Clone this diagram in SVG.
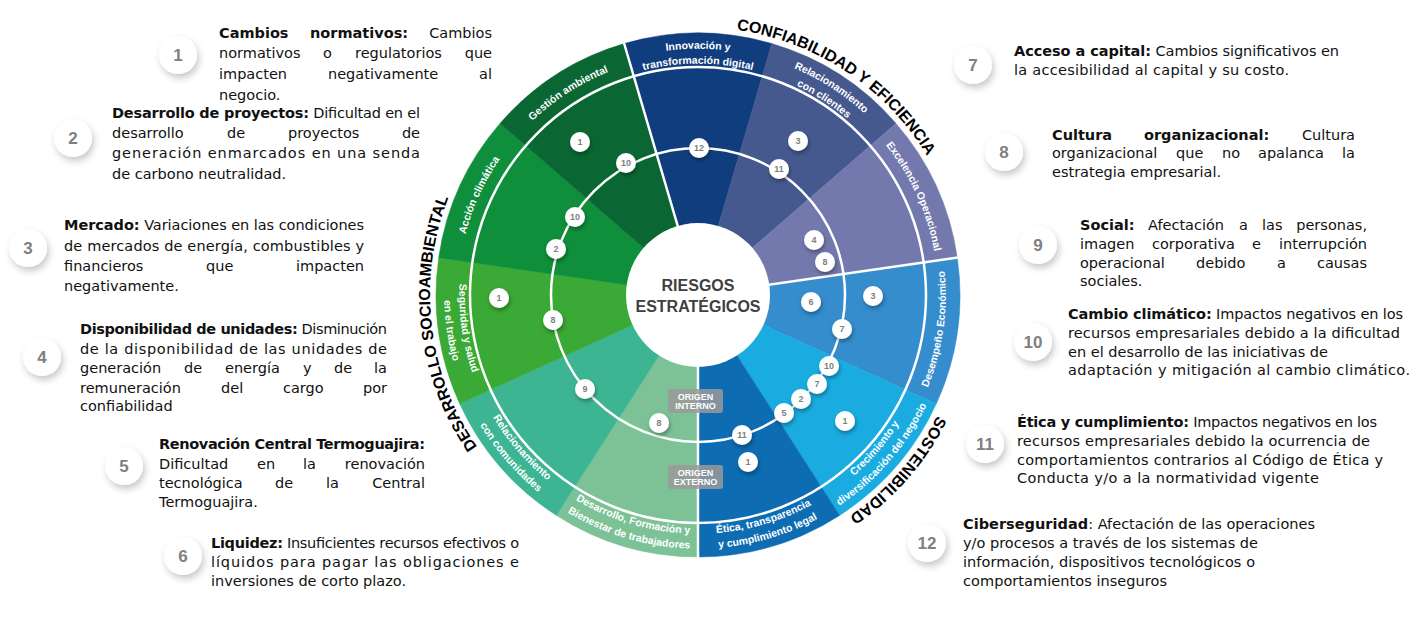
<svg xmlns="http://www.w3.org/2000/svg" width="1419" height="628" viewBox="0 0 1419 628">
<defs>
<filter id="sh" x="-60%" y="-60%" width="220%" height="220%"><feDropShadow dx="2" dy="4" stdDeviation="3.5" flood-color="#000" flood-opacity="0.22"/></filter>
<filter id="shs" x="-60%" y="-60%" width="220%" height="220%"><feDropShadow dx="1" dy="2.5" stdDeviation="2" flood-color="#000" flood-opacity="0.35"/></filter>
<path id="pA" d="M466.4 359.0 A240.3 240.3 0 0 1 594.7 78.0"/>
<path id="pG" d="M468.5 223.7 A240.3 240.3 0 0 1 728.4 56.6"/>
<path id="pI1" d="M539.7 106.3 A246.3 246.3 0 0 1 856.3 106.3"/>
<path id="pI2" d="M549.3 117.8 A231.3 231.3 0 0 1 846.7 117.8"/>
<path id="pC1" d="M666.8 50.7 A246.3 246.3 0 0 1 933.2 221.9"/>
<path id="pC2" d="M668.7 65.5 A231.3 231.3 0 0 1 918.9 226.3"/>
<path id="pE" d="M801.3 78.0 A240.3 240.3 0 0 1 929.6 359.0"/>
<path id="pS1" d="M495.2 169.2 A238.7 238.7 0 0 0 538.8 472.9"/>
<path id="pS2" d="M482.4 161.2 A253.7 253.7 0 0 0 528.8 484.0"/>
<path id="pR1" d="M459.3 298.8 A238.7 238.7 0 0 0 660.3 530.7"/>
<path id="pR2" d="M444.3 299.0 A253.7 253.7 0 0 0 657.9 545.5"/>
<path id="pD1" d="M499.3 427.2 A238.7 238.7 0 0 0 793.7 513.7"/>
<path id="pD2" d="M486.8 435.5 A253.7 253.7 0 0 0 799.7 527.4"/>
<path id="pT1" d="M602.3 513.7 A238.7 238.7 0 0 0 896.7 427.2"/>
<path id="pT2" d="M596.3 527.4 A253.7 253.7 0 0 0 909.2 435.5"/>
<path id="pK1" d="M735.7 530.7 A238.7 238.7 0 0 0 936.7 298.8"/>
<path id="pK2" d="M738.1 545.5 A253.7 253.7 0 0 0 951.7 299.0"/>
<path id="pP" d="M863.2 479.6 A247.7 247.7 0 0 0 908.5 164.4"/>
<path id="tC" d="M667.7 28.7 A268 268 0 0 1 955.0 218.9"/>
<path id="tS" d="M965.9 300.6 A268 268 0 0 1 739.0 559.8"/>
<path id="tD" d="M513.9 489.7 A268 268 0 0 1 474.3 147.5"/>
</defs>
<style>
.t{font-family:"DejaVu Sans",sans-serif;font-size:14.5px;fill:#111}
.b{font-weight:bold}
.e{text-anchor:end}
.bd{fill:#fff;filter:url(#sh)}
.bn{font-family:"Liberation Sans",Arial,sans-serif;font-weight:bold;font-size:17px;fill:#808080;text-anchor:middle}
.sb{fill:#fff;filter:url(#shs)}
.sn{font-family:"Liberation Sans",Arial,sans-serif;font-weight:bold;font-size:9px;fill:#7f7f7f;text-anchor:middle}
.lb{font-family:"Liberation Sans",Arial,sans-serif;font-weight:bold;font-size:10.5px;fill:#fff;text-anchor:middle}
.ttl{font-family:"Liberation Sans",Arial,sans-serif;font-weight:bold;font-size:16px;fill:#000;text-anchor:middle}
.og{font-family:"Liberation Sans",Arial,sans-serif;font-weight:bold;font-size:9px;fill:#fff;text-anchor:middle}
.ctr{font-family:"Liberation Sans",Arial,sans-serif;font-weight:bold;font-size:16px;fill:#404040;text-anchor:middle}
.sep{stroke:#fff;stroke-width:2.5;fill:none}
</style>
<rect width="1419" height="628" fill="#fff"/>

<g id="wheel">
<g id="seg-desarrollo-formacion"><path d="M698 295 L698 557 A262 262 0 0 1 556.4 515.4 Z" fill="#7cc296" stroke="#7cc296" stroke-width="0.5"/></g>
<g id="seg-rel-comunidades"><path d="M698 295 L556.4 515.4 A262 262 0 0 1 459.7 403.8 Z" fill="#3db593" stroke="#3db593" stroke-width="0.5"/></g>
<g id="seg-seguridad"><path d="M698 295 L459.7 403.8 A262 262 0 0 1 438.7 257.7 Z" fill="#3aa935" stroke="#3aa935" stroke-width="0.5"/></g>
<g id="seg-accion-climatica"><path d="M698 295 L438.7 257.7 A262 262 0 0 1 500.0 123.4 Z" fill="#0f8e3b" stroke="#0f8e3b" stroke-width="0.5"/></g>
<g id="seg-gestion-ambiental"><path d="M698 295 L500.0 123.4 A262 262 0 0 1 624.2 43.6 Z" fill="#0a6733" stroke="#0a6733" stroke-width="0.5"/></g>
<g id="seg-innovacion"><path d="M698 295 L624.2 43.6 A262 262 0 0 1 771.8 43.6 Z" fill="#0f3d7e" stroke="#0f3d7e" stroke-width="0.5"/></g>
<g id="seg-rel-clientes"><path d="M698 295 L771.8 43.6 A262 262 0 0 1 896.0 123.4 Z" fill="#46598f" stroke="#46598f" stroke-width="0.5"/></g>
<g id="seg-excelencia"><path d="M698 295 L896.0 123.4 A262 262 0 0 1 957.3 257.7 Z" fill="#7479ad" stroke="#7479ad" stroke-width="0.5"/></g>
<g id="seg-desempeno"><path d="M698 295 L957.3 257.7 A262 262 0 0 1 936.3 403.8 Z" fill="#358dcd" stroke="#358dcd" stroke-width="0.5"/></g>
<g id="seg-crecimiento"><path d="M698 295 L936.3 403.8 A262 262 0 0 1 839.6 515.4 Z" fill="#1aace1" stroke="#1aace1" stroke-width="0.5"/></g>
<g id="seg-etica"><path d="M698 295 L839.6 515.4 A262 262 0 0 1 698 557 Z" fill="#0e6cb3" stroke="#0e6cb3" stroke-width="0.5"/></g>

<path class="sep" d="M698 295 L698 558 M698 295 L624.0 43 M698 295 L958 257.6"/>
<circle class="sep" cx="698" cy="295" r="228" stroke-width="2"/>
<circle class="sep" cx="698" cy="295" r="147"/>

<g id="band-labels">
<text class="lb"><textPath href="#pA" startOffset="50%">Acción climática</textPath></text>
<text class="lb"><textPath href="#pG" startOffset="50%">Gestión ambiental</textPath></text>
<text class="lb"><textPath href="#pI1" startOffset="50%">Innovación y</textPath></text>
<text class="lb"><textPath href="#pI2" startOffset="50%">transformación digital</textPath></text>
<text class="lb"><textPath href="#pC1" startOffset="50%">Relacionamiento</textPath></text>
<text class="lb"><textPath href="#pC2" startOffset="50%">con clientes</textPath></text>
<text class="lb"><textPath href="#pE" startOffset="50%">Excelencia Operacional</textPath></text>
<text class="lb"><textPath href="#pS1" startOffset="50%">Seguridad y salud</textPath></text>
<text class="lb"><textPath href="#pS2" startOffset="50%">en el trabajo</textPath></text>
<text class="lb"><textPath href="#pR1" startOffset="50%">Relacionamiento</textPath></text>
<text class="lb"><textPath href="#pR2" startOffset="50%">con comunidades</textPath></text>
<text class="lb"><textPath href="#pD1" startOffset="50%">Desarrollo, Formación y</textPath></text>
<text class="lb"><textPath href="#pD2" startOffset="50%">Bienestar de trabajadores</textPath></text>
<text class="lb"><textPath href="#pT1" startOffset="50%">Ética, transparencia</textPath></text>
<text class="lb"><textPath href="#pT2" startOffset="50%">y cumplimiento legal</textPath></text>
<text class="lb"><textPath href="#pK1" startOffset="50%">Crecimiento y</textPath></text>
<text class="lb"><textPath href="#pK2" startOffset="50%">diversificación del negocio</textPath></text>
<text class="lb"><textPath href="#pP" startOffset="50%">Desempeño Económico</textPath></text>
</g>

<g id="titles">
<text class="ttl"><textPath href="#tC" startOffset="50%">CONFIABILIDAD Y EFICIENCIA</textPath></text>
<text class="ttl"><textPath href="#tS" startOffset="50%">SOSTENIBILIDAD</textPath></text>
<text class="ttl"><textPath href="#tD" startOffset="50%">DESARROLLO SOCIOAMBIENTAL</textPath></text>
</g>

<g id="center">
<circle cx="698" cy="295" r="72" fill="#fff"/>
<text class="ctr" x="698" y="291">RIESGOS</text>
<text class="ctr" x="698" y="312">ESTRATÉGICOS</text>
</g>

<g id="origen">
<rect x="668" y="389" width="55" height="24" rx="3" fill="#9a9a9a" fill-opacity="0.85"/>
<text class="og" x="695.5" y="399.5">ORIGEN</text>
<text class="og" x="695.5" y="408.5">INTERNO</text>
<rect x="668" y="465" width="55" height="24" rx="3" fill="#9a9a9a" fill-opacity="0.85"/>
<text class="og" x="695.5" y="475.5">ORIGEN</text>
<text class="og" x="695.5" y="484.5">EXTERNO</text>
</g>

<g id="wheel-badges">
<circle class="sb" cx="580" cy="142" r="10"/><text class="sn" x="580" y="145.2">1</text>
<circle class="sb" cx="626" cy="163" r="10"/><text class="sn" x="626" y="166.2">10</text>
<circle class="sb" cx="699" cy="148" r="10"/><text class="sn" x="699" y="151.2">12</text>
<circle class="sb" cx="798" cy="141" r="10"/><text class="sn" x="798" y="144.2">3</text>
<circle class="sb" cx="779" cy="169" r="10"/><text class="sn" x="779" y="172.2">11</text>
<circle class="sb" cx="575" cy="217" r="10"/><text class="sn" x="575" y="220.2">10</text>
<circle class="sb" cx="556" cy="249" r="10"/><text class="sn" x="556" y="252.2">2</text>
<circle class="sb" cx="814" cy="240" r="10"/><text class="sn" x="814" y="243.2">4</text>
<circle class="sb" cx="825" cy="262" r="10"/><text class="sn" x="825" y="265.2">8</text>
<circle class="sb" cx="499" cy="298" r="10"/><text class="sn" x="499" y="301.2">1</text>
<circle class="sb" cx="811" cy="302" r="10"/><text class="sn" x="811" y="305.2">6</text>
<circle class="sb" cx="873" cy="296" r="10"/><text class="sn" x="873" y="299.2">3</text>
<circle class="sb" cx="553" cy="320" r="10"/><text class="sn" x="553" y="323.2">8</text>
<circle class="sb" cx="842" cy="329" r="10"/><text class="sn" x="842" y="332.2">7</text>
<circle class="sb" cx="829" cy="366" r="10"/><text class="sn" x="829" y="369.2">10</text>
<circle class="sb" cx="817" cy="384" r="10"/><text class="sn" x="817" y="387.2">7</text>
<circle class="sb" cx="801" cy="399" r="10"/><text class="sn" x="801" y="402.2">2</text>
<circle class="sb" cx="784" cy="413" r="10"/><text class="sn" x="784" y="416.2">5</text>
<circle class="sb" cx="585" cy="389" r="10"/><text class="sn" x="585" y="392.2">9</text>
<circle class="sb" cx="845" cy="421" r="10"/><text class="sn" x="845" y="424.2">1</text>
<circle class="sb" cx="659" cy="423" r="10"/><text class="sn" x="659" y="426.2">8</text>
<circle class="sb" cx="742" cy="435" r="10"/><text class="sn" x="742" y="438.2">11</text>
<circle class="sb" cx="748" cy="462" r="10"/><text class="sn" x="748" y="465.2">1</text>
</g>
</g>

<g id="connectors"></g>

<g id="risk-1">
<circle class="bd" cx="178" cy="55" r="19"/><text class="bn" x="178" y="61">1</text>
<text class="t b" x="219" y="38">Cambios</text>
<text class="t b" x="310" y="38">normativos:</text>
<text class="t e" x="492" y="38">Cambios</text>
<text class="t" x="219" y="58">normativos</text>
<text class="t" x="323" y="58">o</text>
<text class="t" x="355" y="58">regulatorios</text>
<text class="t e" x="492" y="58">que</text>
<text class="t" x="219" y="79">impacten</text>
<text class="t" x="328" y="79">negativamente</text>
<text class="t e" x="492" y="79">al</text>
<text class="t" x="219" y="100">negocio.</text>
</g>

<g id="risk-2">
<circle class="bd" cx="73" cy="138" r="19"/><text class="bn" x="73" y="144">2</text>
<text class="t" x="112" y="118" textLength="308" lengthAdjust="spacing"><tspan class="b">Desarrollo de proyectos:</tspan> Dificultad en el</text>
<text class="t" x="112" y="138">desarrollo</text>
<text class="t" x="227" y="138">de</text>
<text class="t" x="288" y="138">proyectos</text>
<text class="t e" x="420" y="138">de</text>
<text class="t" x="112" y="158" textLength="308" lengthAdjust="spacing">generación enmarcados en una senda</text>
<text class="t" x="112" y="179">de carbono neutralidad.</text>
</g>

<g id="risk-3">
<circle class="bd" cx="28" cy="248" r="19"/><text class="bn" x="28" y="254">3</text>
<text class="t" x="64" y="230" textLength="300" lengthAdjust="spacing"><tspan class="b">Mercado:</tspan> Variaciones en las condiciones</text>
<text class="t" x="64" y="251" textLength="300" lengthAdjust="spacing">de mercados de energía, combustibles y</text>
<text class="t" x="64" y="271">financieros</text>
<text class="t" x="206" y="271">que</text>
<text class="t e" x="364" y="271">impacten</text>
<text class="t" x="64" y="291">negativamente.</text>
</g>

<g id="risk-4">
<circle class="bd" cx="42" cy="357" r="19"/><text class="bn" x="42" y="363">4</text>
<text class="t" x="80" y="334" textLength="307" lengthAdjust="spacing"><tspan class="b">Disponibilidad de unidades:</tspan> Disminución</text>
<text class="t" x="80" y="353.5" textLength="307" lengthAdjust="spacing">de la disponibilidad de las unidades de</text>
<text class="t" x="80" y="373">generación</text>
<text class="t" x="184" y="373">de</text>
<text class="t" x="225" y="373">energía</text>
<text class="t" x="303" y="373">y</text>
<text class="t" x="334" y="373">de</text>
<text class="t e" x="387" y="373">la</text>
<text class="t" x="80" y="392.5">remuneración</text>
<text class="t" x="221" y="392.5">del</text>
<text class="t" x="283" y="392.5">cargo</text>
<text class="t e" x="387" y="392.5">por</text>
<text class="t" x="80" y="411">confiabilidad</text>
</g>

<g id="risk-5">
<circle class="bd" cx="124" cy="466" r="19"/><text class="bn" x="124" y="472">5</text>
<text class="t b" x="159" y="449" textLength="266" lengthAdjust="spacing">Renovación Central Termoguajira:</text>
<text class="t" x="159" y="469">Dificultad</text>
<text class="t" x="257" y="469">en</text>
<text class="t" x="303" y="469">la</text>
<text class="t e" x="425" y="469">renovación</text>
<text class="t" x="159" y="488">tecnológica</text>
<text class="t" x="275" y="488">de</text>
<text class="t" x="326" y="488">la</text>
<text class="t e" x="425" y="488">Central</text>
<text class="t" x="159" y="507">Termoguajira.</text>
</g>

<g id="risk-6">
<circle class="bd" cx="183" cy="556" r="19"/><text class="bn" x="183" y="562">6</text>
<text class="t" x="211" y="548" textLength="308" lengthAdjust="spacing"><tspan class="b">Liquidez:</tspan> Insuficientes recursos efectivos o</text>
<text class="t" x="211" y="567" textLength="308" lengthAdjust="spacing">líquidos para pagar las obligaciones e</text>
<text class="t" x="211" y="586">inversiones de corto plazo.</text>
</g>

<g id="risk-7">
<circle class="bd" cx="973" cy="65" r="19"/><text class="bn" x="973" y="71">7</text>
<text class="t" x="1014" y="56" textLength="325" lengthAdjust="spacing"><tspan class="b">Acceso a capital:</tspan> Cambios significativos en</text>
<text class="t" x="1014" y="75" textLength="275" lengthAdjust="spacing">la accesibilidad al capital y su costo.</text>
</g>

<g id="risk-8">
<circle class="bd" cx="1004" cy="152" r="19"/><text class="bn" x="1004" y="158">8</text>
<text class="t b" x="1052" y="140">Cultura</text>
<text class="t b" x="1144" y="140">organizacional:</text>
<text class="t e" x="1355" y="140">Cultura</text>
<text class="t" x="1052" y="158">organizacional</text>
<text class="t" x="1176" y="158">que</text>
<text class="t" x="1222" y="158">no</text>
<text class="t" x="1258" y="158">apalanca</text>
<text class="t e" x="1355" y="158">la</text>
<text class="t" x="1052" y="177">estrategia empresarial.</text>
</g>

<g id="risk-9">
<circle class="bd" cx="1038" cy="245" r="19"/><text class="bn" x="1038" y="251">9</text>
<text class="t b" x="1080" y="230">Social:</text>
<text class="t" x="1148" y="230">Afectación</text>
<text class="t" x="1239" y="230">a</text>
<text class="t" x="1262" y="230">las</text>
<text class="t e" x="1367" y="230">personas,</text>
<text class="t" x="1080" y="249">imagen</text>
<text class="t" x="1152" y="249">corporativa</text>
<text class="t" x="1252" y="249">e</text>
<text class="t e" x="1367" y="249">interrupción</text>
<text class="t" x="1080" y="268">operacional</text>
<text class="t" x="1196" y="268">debido</text>
<text class="t" x="1277" y="268">a</text>
<text class="t e" x="1367" y="268">causas</text>
<text class="t" x="1080" y="286">sociales.</text>
</g>

<g id="risk-10">
<circle class="bd" cx="1033" cy="342" r="19"/><text class="bn" x="1033" y="348">10</text>
<text class="t" x="1068" y="319" textLength="335" lengthAdjust="spacing"><tspan class="b">Cambio climático:</tspan> Impactos negativos en los</text>
<text class="t" x="1068" y="338" textLength="332" lengthAdjust="spacing">recursos empresariales debido a la dificultad</text>
<text class="t" x="1068" y="357" textLength="260" lengthAdjust="spacing">en el desarrollo de las iniciativas de</text>
<text class="t" x="1068" y="375" textLength="342" lengthAdjust="spacing">adaptación y mitigación al cambio climático.</text>
</g>

<g id="risk-11">
<circle class="bd" cx="985" cy="444" r="19"/><text class="bn" x="985" y="450">11</text>
<text class="t" x="1017" y="427" textLength="360" lengthAdjust="spacing"><tspan class="b">Ética y cumplimiento:</tspan>  Impactos negativos en los</text>
<text class="t" x="1017" y="446" textLength="353" lengthAdjust="spacing">recursos empresariales debido la ocurrencia de</text>
<text class="t" x="1017" y="465" textLength="366" lengthAdjust="spacing">comportamientos contrarios al Código de Ética y</text>
<text class="t" x="1017" y="483" textLength="302" lengthAdjust="spacing">Conducta y/o a la normatividad vigente</text>
</g>

<g id="risk-12">
<circle class="bd" cx="927" cy="543" r="19"/><text class="bn" x="927" y="549">12</text>
<text class="t" x="963" y="529" textLength="352" lengthAdjust="spacing"><tspan class="b">Ciberseguridad</tspan>: Afectación de las operaciones</text>
<text class="t" x="963" y="548" textLength="295" lengthAdjust="spacing">y/o procesos a través de los sistemas de</text>
<text class="t" x="963" y="567" textLength="292" lengthAdjust="spacing">información, dispositivos tecnológicos o</text>
<text class="t" x="963" y="586" textLength="204" lengthAdjust="spacing">comportamientos inseguros</text>
</g>
</svg>
